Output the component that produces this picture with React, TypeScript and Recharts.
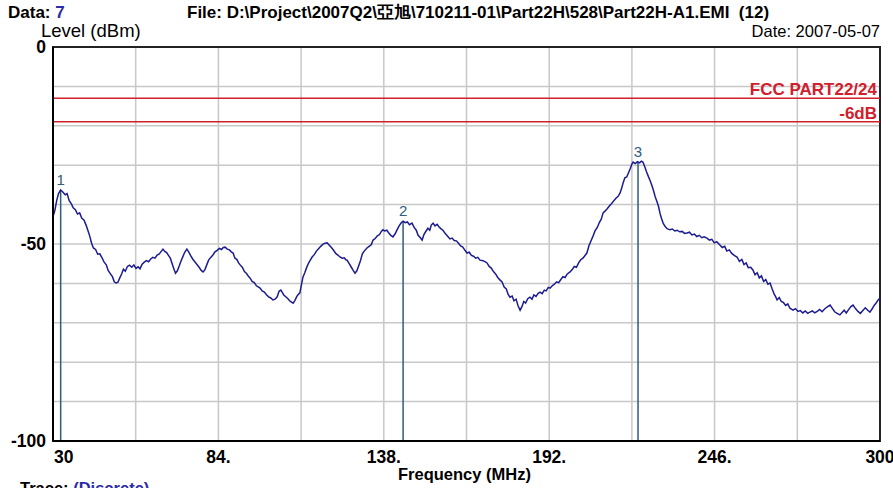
import React from "react";
import { LineChart, Line, XAxis, YAxis, CartesianGrid, ReferenceLine, ReferenceArea } from "recharts";

// trace (MHz / dBm)
const freqMHz = [
  30, 30.6, 31.2, 31.8, 32.5, 33.2, 34.0, 34.6, 35.3, 36.0, 36.6, 37.3, 38.0, 38.7, 39.4, 40.1, 40.8, 41.4, 42.0, 42.6,
  43.2, 43.9, 44.6, 45.3, 46.0, 46.7, 47.4, 48.0, 48.7, 49.4, 50.0, 50.6, 51.2, 51.8, 52.4, 53.0, 53.6, 54.3, 55.0, 55.7,
  56.4, 57.1, 57.8, 58.4, 59.1, 59.8, 60.5, 61.2, 61.9, 62.6, 63.3, 64.0, 64.7, 65.4, 65.9, 66.5, 67.1, 67.7, 68.3, 68.9,
  69.5, 70.0, 70.6, 71.2, 71.8, 72.4, 73.0, 73.7, 74.3, 74.9, 75.6, 76.3, 77.0, 77.7, 78.4, 79.0, 79.6, 80.2, 80.8, 81.5,
  82.2, 82.9, 83.6, 84.3, 85.0, 85.6, 86.2, 86.9, 87.6, 88.2, 88.8, 89.4, 90.0, 90.6, 91.1, 91.8, 92.5, 93.2, 93.8, 94.3,
  95.0, 95.7, 96.4, 97.0, 97.6, 98.3, 99.0, 99.7, 100.4, 101.1, 101.8, 102.5, 103.2, 103.8, 104.4, 104.8, 105.4, 106.0, 106.7, 107.4,
  108.0, 108.4, 109.0, 109.6, 110.0, 110.6, 111.1, 111.6, 112.2, 112.8, 113.4, 114.0, 114.6, 115.3, 116.0, 116.7, 117.4, 118.1, 118.8, 119.5,
  120.2, 120.9, 121.6, 122.3, 123.0, 123.7, 124.4, 125.1, 125.6, 126.0, 126.7, 127.4, 128.0, 128.6, 129.2, 129.8, 130.4, 131.0, 131.6, 132.5,
  133.2, 133.9, 134.5, 135.2, 135.9, 136.6, 137.2, 137.7, 138.3, 139.0, 139.7, 140.3, 141.0, 141.7, 142.4, 143.0, 143.7, 144.3, 145.0, 145.7,
  146.4, 147.2, 147.9, 148.6, 149.2, 149.8, 150.5, 151.1, 151.8, 152.4, 153.0, 153.5, 154.1, 154.7, 155.4, 156.0, 156.6, 157.3, 158.0, 158.7,
  159.6, 160.3, 161.0, 161.7, 162.4, 163.1, 163.8, 164.5, 165.2, 165.9, 166.6, 167.3, 168.0, 168.7, 169.4, 170.1, 170.9, 171.7, 172.4, 173.1,
  173.8, 174.5, 175.2, 175.9, 176.6, 177.3, 178.0, 178.6, 179.2, 179.9, 180.5, 181.2, 181.8, 182.5, 183.1, 183.7, 184.3, 185.0, 185.7, 186.4,
  187.0, 187.7, 188.4, 189.0, 189.7, 190.4, 191.0, 191.7, 192.3, 193.0, 193.7, 194.4, 195.1, 195.8, 196.5, 197.2, 197.9, 198.8, 199.5, 200.2,
  200.9, 201.6, 202.3, 203.0, 203.7, 204.3, 205.0, 205.6, 206.3, 207.0, 207.7, 208.4, 209.0, 209.6, 210.3, 211.0, 211.7, 212.4, 213.1, 213.8,
  214.5, 215.1, 215.6, 216.1, 216.7, 217.3, 217.9, 218.5, 219.0, 219.4, 220.1, 220.8, 221.5, 222.1, 222.6, 223.2, 223.8, 224.4, 224.9, 225.5,
  226.0, 226.6, 227.2, 227.7, 228.2, 228.7, 229.2, 229.8, 230.5, 231.4, 232.2, 233.0, 233.8, 234.6, 235.4, 236.2, 237.0, 237.8, 238.6, 239.4,
  240.2, 241.0, 241.8, 242.6, 243.5, 244.3, 245.1, 245.9, 246.7, 247.8, 248.5, 249.3, 250.0, 250.8, 251.6, 252.4, 253.3, 254.1, 254.9, 255.6,
  256.3, 257.0, 257.8, 258.5, 259.2, 259.9, 260.6, 261.3, 262.0, 262.7, 263.4, 264.1, 264.8, 265.5, 266.0, 266.4, 267.1, 267.8, 268.5, 269.2,
  269.9, 270.6, 271.6, 272.4, 273.2, 274.0, 274.8, 275.6, 276.4, 277.1, 277.9, 278.7, 279.5, 280.3, 281.1, 281.9, 282.7, 283.7, 284.5, 285.2,
  286.0, 286.9, 287.6, 288.3, 289.0, 289.8, 290.5, 291.2, 292.0, 292.8, 293.6, 294.4, 295.2, 296.0, 296.7, 297.4, 298.1, 298.8, 299.4, 300.0,
];

const levelDbm = [
  -43.0, -41.5, -39.0, -37.2, -36.3, -36.8, -37.5, -37.2, -39.0, -39.8, -40.8, -41.3, -42.4, -42.1, -43.5, -43.9, -45.2, -46.6, -48.0, -49.8,
  -51.0, -51.4, -52.6, -52.5, -53.5, -54.6, -55.3, -56.7, -57.5, -58.3, -59.6, -59.9, -59.7, -58.6, -57.6, -56.4, -56.9, -55.7, -55.4, -55.9,
  -55.3, -56.2, -55.8, -56.3, -55.1, -54.6, -54.2, -54.5, -53.8, -53.4, -53.6, -52.8, -52.5, -51.8, -51.3, -51.9, -52.2, -52.9, -53.6, -55.0,
  -56.4, -57.4, -56.8, -55.6, -54.3, -53.2, -52.1, -51.3, -52.0, -52.9, -53.8, -54.5, -55.2, -55.9, -56.7, -57.1, -56.5, -55.3, -54.1, -53.4,
  -52.8, -52.0, -51.6, -51.1, -51.4, -50.9, -50.8, -51.3, -51.5, -52.0, -52.3, -53.6, -53.9, -54.8, -55.3, -55.9, -57.0, -57.5, -58.2, -58.6,
  -59.5, -59.8, -60.6, -60.9, -61.2, -61.9, -62.2, -62.9, -63.4, -63.7, -64.2, -64.0, -63.4, -62.0, -61.7, -62.2, -63.0, -63.4, -63.9, -64.5,
  -64.8, -65.0, -64.3, -63.3, -62.9, -62.4, -60.4, -58.4, -57.3, -56.0, -54.9, -54.1, -53.3, -52.7, -51.8, -51.2, -50.6, -50.1, -49.8, -49.7,
  -50.3, -50.9, -51.6, -52.4, -52.8, -53.3, -53.6, -53.5, -54.0, -54.1, -55.0, -55.9, -56.7, -57.4, -56.8, -55.5, -54.2, -52.5, -51.8, -51.0,
  -50.6, -50.2, -49.0, -48.6, -47.9, -47.6, -46.8, -46.4, -46.7, -46.5, -47.3, -47.8, -48.2, -47.4, -46.3, -45.4, -44.6, -44.2, -44.6, -44.4,
  -45.1, -44.7, -45.8, -46.5, -47.8, -48.3, -49.0, -47.6, -46.7, -46.0, -46.5, -45.2, -44.7, -45.4, -45.0, -45.6, -46.1, -46.5, -47.3, -47.9,
  -48.7, -48.5, -49.1, -49.2, -49.8, -50.5, -50.8, -51.6, -52.3, -52.1, -52.9, -53.1, -53.6, -53.4, -54.1, -54.2, -54.4, -54.8, -55.7, -56.1,
  -57.0, -57.6, -58.5, -59.1, -59.6, -60.9, -61.4, -62.8, -63.5, -63.2, -64.4, -64.0, -65.6, -66.8, -65.9, -64.6, -65.0, -63.9, -63.5, -64.0,
  -62.9, -63.3, -62.5, -62.2, -62.6, -61.7, -61.9, -61.0, -61.2, -60.6, -60.2, -59.6, -59.8, -59.0, -58.3, -58.5, -57.6, -57.1, -56.5, -55.7,
  -55.9, -54.8, -54.0, -53.6, -52.9, -52.3, -50.4, -49.3, -48.0, -46.6, -45.8, -44.5, -43.7, -42.1, -41.6, -41.0, -40.3, -39.7, -39.0, -38.4,
  -37.9, -37.1, -36.0, -34.6, -33.2, -33.0, -31.9, -30.8, -29.7, -29.2, -29.6, -29.1, -29.4, -29.0, -29.2, -30.4, -31.7, -32.9, -33.8, -35.1,
  -36.3, -38.0, -39.3, -40.5, -42.3, -43.6, -44.7, -45.5, -46.1, -46.4, -46.2, -46.7, -46.5, -46.9, -46.8, -47.3, -47.2, -47.0, -47.7, -47.5,
  -48.1, -47.8, -48.4, -48.2, -48.5, -49.0, -48.8, -49.7, -49.4, -50.3, -50.9, -50.6, -51.8, -51.5, -52.4, -52.9, -53.3, -54.4, -53.9, -55.2,
  -54.8, -56.0, -55.9, -56.6, -57.8, -57.3, -58.6, -58.1, -59.5, -59.0, -60.2, -59.9, -61.4, -62.8, -63.5, -64.2, -63.6, -64.6, -64.9, -65.6,
  -65.2, -66.3, -66.8, -66.4, -67.1, -66.9, -67.5, -67.0, -67.6, -67.3, -67.0, -67.5, -67.1, -66.6, -67.2, -66.5, -66.0, -65.5, -66.4, -67.2,
  -67.6, -68.0, -67.4, -66.8, -67.5, -66.6, -65.9, -65.5, -66.4, -67.1, -67.6, -66.9, -66.2, -66.8, -67.3, -66.5, -65.6, -64.9, -64.2, -63.7,
];

// markers
const markerFreqs = [32.5, 144.3, 221.0];
const markerLevels = [-36.3, -44.2, -29.1];
const markerLabels = ["1", "2", "3"];

// limit lines
const limitLevels = [-13, -19];
const limitLabels = ["FCC PART22/24", "-6dB"];

const xGridTicks = [30, 57, 84, 111, 138, 165, 192, 219, 246, 273, 300];
const xTickText: Record<number, string> = { 30: "30", 84: "84.", 138: "138.", 192: "192.", 246: "246.", 300: "300" };
const yGridTicks = [-100, -90, -80, -70, -60, -50, -40, -30, -20, -10, 0];
const yTickText: Record<string, string> = { "0": "0", "-50": "-50", "-100": "-100" };

const data = freqMHz.map((f, i) => ({ f, level: levelDbm[i] }));

const FONT = '"Liberation Sans", Arial, sans-serif';
const MARKER = "#2e5d7e";
const LIMIT = "#d0202c";

const XTick = (props: any) => {
  const { x, y, payload } = props;
  const t = xTickText[payload.value];
  if (!t) return null;
  return (
    <text x={payload.value === 30 ? x + 1 : x} y={y + 20} textAnchor={payload.value === 30 ? "start" : "middle"}
      fontFamily={FONT} fontWeight="bold" fontSize={17.5} fill="#000">{t}</text>
  );
};

const YTick = (props: any) => {
  const { x, y, payload } = props;
  const t = yTickText[String(payload.value)];
  if (!t) return null;
  return (
    <text x={x - 5} y={y + 6} textAnchor="end" fontFamily={FONT} fontWeight="bold" fontSize={17.5} fill="#000">{t}</text>
  );
};

export default function App() {
  const txt: React.CSSProperties = { position: "absolute", fontFamily: FONT, fontWeight: "bold", fontSize: 17, lineHeight: "19px", whiteSpace: "nowrap", color: "#000" };
  return (
    <div style={{ position: "absolute", left: 0, top: 0, width: 893, height: 488, background: "#fff", overflow: "hidden" }}>
      <LineChart width={893} height={488} data={data} margin={{ top: 47, right: 13, bottom: 0, left: 0 }}>
        <CartesianGrid stroke="#c8c8c8" strokeWidth={1.5} horizontalValues={yGridTicks} verticalValues={xGridTicks} />
        <XAxis dataKey="f" type="number" domain={[30, 300]} ticks={xGridTicks} interval={0} height={47}
          tickLine={false} tickSize={0} tick={<XTick />} axisLine={{ stroke: "#000", strokeWidth: 2 }} />
        <YAxis type="number" domain={[-100, 0]} ticks={yGridTicks} interval={0} width={53}
          tickLine={false} tickSize={0} tick={<YTick />} axisLine={{ stroke: "#000", strokeWidth: 2 }} />
        <ReferenceArea x1={30} x2={300} y1={-100} y2={0} fill="none" stroke="#222" strokeWidth={2} />
        {limitLevels.map((v, i) => (
          <ReferenceLine key={"l" + i} y={v} stroke={LIMIT} strokeWidth={1.5}
            label={{ value: limitLabels[i], position: "insideBottomRight", fill: LIMIT, fontSize: 17, fontWeight: "bold", fontFamily: FONT, offset: 3 }} />
        ))}
        {markerFreqs.map((f, i) => (
          <ReferenceLine key={"m" + i} segment={[{ x: f, y: -100 }, { x: f, y: markerLevels[i] }]} stroke={MARKER} strokeWidth={1.5}
            label={{ value: markerLabels[i], position: "top", fill: MARKER, fontSize: 15, fontFamily: FONT, offset: 5 }} />
        ))}
        <Line dataKey="level" type="linear" stroke="#1c1c90" strokeWidth={1.5} dot={false} isAnimationActive={false} />
      </LineChart>
      <div style={{ ...txt, left: 8, top: 3 }}>Data: <span style={{ color: "#2b2ba8" }}>7</span></div>
      <div style={{ ...txt, left: 187, top: 3 }}>File: D:\Project\2007Q2\亞旭\710211-01\Part22H\528\Part22H-A1.EMI&nbsp;&nbsp;(12)</div>
      <div style={{ ...txt, left: 41, top: 20, fontWeight: "normal", fontSize: 18.5, lineHeight: "21px" }}>Level (dBm)</div>
      <div style={{ ...txt, right: 13, top: 22, fontWeight: "normal", fontSize: 16.5 }}>Date: 2007-05-07</div>
      <div style={{ ...txt, left: 398, top: 465, fontSize: 16.5 }}>Frequency (MHz)</div>
      <div style={{ ...txt, left: 20, top: 479, fontSize: 16.5 }}>Trace: <span style={{ color: "#2b2ba8" }}>(Discrete)</span></div>
    </div>
  );
}
